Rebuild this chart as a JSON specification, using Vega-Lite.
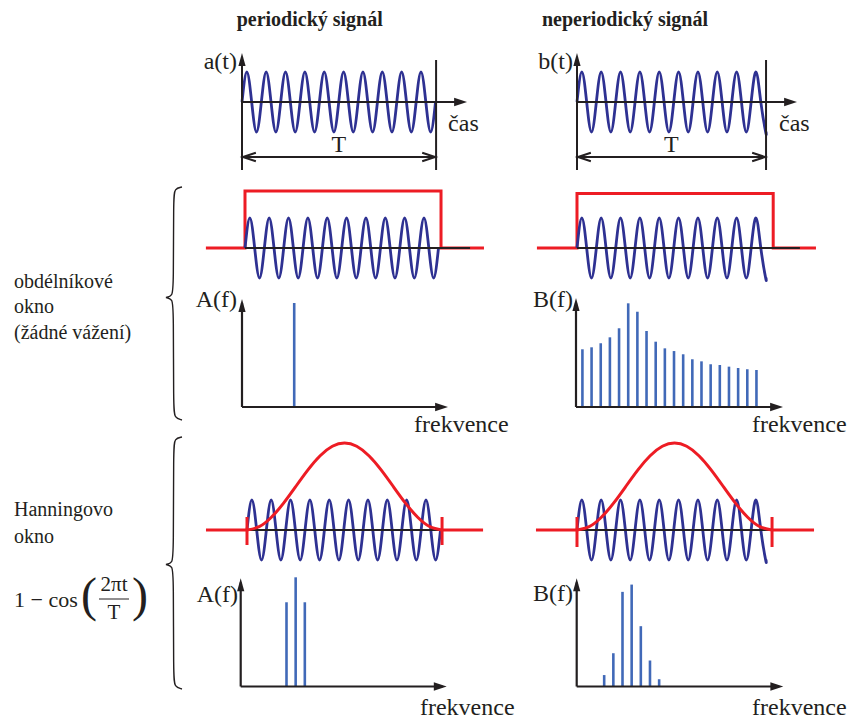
{
"$schema":"https://vega.github.io/schema/vega-lite/v6.json",
"padding":0,
"background":"white",
"config":{"view":{"stroke":null},"text":{"font":"Liberation Serif, Times New Roman, serif"}},
"datasets":{
"wp":[{"t":0,"a":0},{"t":0.25,"a":1},{"t":0.5,"a":0},{"t":0.75,"a":-1},{"t":1,"a":0},{"t":1.25,"a":1},{"t":1.5,"a":0},{"t":1.75,"a":-1},{"t":2,"a":0},{"t":2.25,"a":1},{"t":2.5,"a":0},{"t":2.75,"a":-1},{"t":3,"a":0},{"t":3.25,"a":1},{"t":3.5,"a":0},{"t":3.75,"a":-1},{"t":4,"a":0},{"t":4.25,"a":1},{"t":4.5,"a":0},{"t":4.75,"a":-1},{"t":5,"a":0},{"t":5.25,"a":1},{"t":5.5,"a":0},{"t":5.75,"a":-1},{"t":6,"a":0},{"t":6.25,"a":1},{"t":6.5,"a":0},{"t":6.75,"a":-1},{"t":7,"a":0},{"t":7.25,"a":1},{"t":7.5,"a":0},{"t":7.75,"a":-1},{"t":8,"a":0},{"t":8.25,"a":1},{"t":8.5,"a":0},{"t":8.75,"a":-1},{"t":9,"a":0},{"t":9.25,"a":1},{"t":9.5,"a":0},{"t":9.75,"a":-1},{"t":10,"a":0}],
"wn":[{"t":0,"a":0},{"t":0.25,"a":1},{"t":0.5,"a":0},{"t":0.75,"a":-1},{"t":1,"a":0},{"t":1.25,"a":1},{"t":1.5,"a":0},{"t":1.75,"a":-1},{"t":2,"a":0},{"t":2.25,"a":1},{"t":2.5,"a":0},{"t":2.75,"a":-1},{"t":3,"a":0},{"t":3.25,"a":1},{"t":3.5,"a":0},{"t":3.75,"a":-1},{"t":4,"a":0},{"t":4.25,"a":1},{"t":4.5,"a":0},{"t":4.75,"a":-1},{"t":5,"a":0},{"t":5.25,"a":1},{"t":5.5,"a":0},{"t":5.75,"a":-1},{"t":6,"a":0},{"t":6.25,"a":1},{"t":6.5,"a":0},{"t":6.75,"a":-1},{"t":7,"a":0},{"t":7.25,"a":1},{"t":7.5,"a":0},{"t":7.75,"a":-1},{"t":8,"a":0},{"t":8.25,"a":1},{"t":8.5,"a":0},{"t":8.75,"a":-1},{"t":9,"a":0},{"t":9.25,"a":1},{"t":9.5,"a":0},{"t":9.75,"a":-1},{"t":9.77,"a":-0.99}],
"hann":[{"t":0,"a":0},{"t":0.63,"a":0.11},{"t":1.26,"a":0.425},{"t":1.89,"a":0.895},{"t":2.52,"a":1.45},{"t":3.15,"a":2.005},{"t":3.78,"a":2.475},{"t":4.41,"a":2.79},{"t":5.04,"a":2.9},{"t":5.67,"a":2.79},{"t":6.3,"a":2.475},{"t":6.93,"a":2.005},{"t":7.56,"a":1.45},{"t":8.19,"a":0.895},{"t":8.82,"a":0.425},{"t":9.45,"a":0.11},{"t":10.08,"a":0}]
},
"hconcat":[
{
"width":190,"height":720,
"encoding":{
"x":{"field":"h","type":"quantitative","scale":{"domain":[0,190],"nice":false,"zero":false},"axis":null},
"y":{"field":"v","type":"quantitative","scale":{"domain":[0,720],"nice":false,"zero":false,"reverse":true},"axis":null}
},
"layer":[
{"data":{"values":[
{"b":1,"i":0,"h":182,"v":187},{"b":1,"i":1,"h":174.5,"v":188.5},{"b":1,"i":2,"h":173.5,"v":198},{"b":1,"i":3,"h":173.5,"v":286},{"b":1,"i":4,"h":172.5,"v":296},{"b":1,"i":5,"h":166,"v":297.5},{"b":1,"i":6,"h":166,"v":297.5},{"b":1,"i":7,"h":166,"v":297.5},{"b":1,"i":8,"h":172.5,"v":299},{"b":1,"i":9,"h":173.5,"v":309},{"b":1,"i":10,"h":173.5,"v":408},{"b":1,"i":11,"h":174.5,"v":418},{"b":1,"i":12,"h":182,"v":420},
{"b":2,"i":0,"h":182,"v":437},{"b":2,"i":1,"h":174.5,"v":438.5},{"b":2,"i":2,"h":173.5,"v":448},{"b":2,"i":3,"h":173.5,"v":553},{"b":2,"i":4,"h":172.5,"v":563},{"b":2,"i":5,"h":166,"v":564.5},{"b":2,"i":6,"h":166,"v":564.5},{"b":2,"i":7,"h":166,"v":564.5},{"b":2,"i":8,"h":172.5,"v":566},{"b":2,"i":9,"h":173.5,"v":576},{"b":2,"i":10,"h":173.5,"v":677},{"b":2,"i":11,"h":174.5,"v":687},{"b":2,"i":12,"h":182,"v":689}
]},
"mark":{"type":"line","interpolate":"basis","color":"#231f20","strokeWidth":1.4},
"encoding":{"detail":{"field":"b"},"order":{"field":"i"}}},
{"data":{"values":[
{"h":14,"v":282,"label":"obdélníkové"},{"h":14,"v":307,"label":"okno"},{"h":14,"v":333,"label":"(žádné vážení)"},
{"h":14,"v":510,"label":"Hanningovo"},{"h":14,"v":537,"label":"okno"}
]},
"mark":{"type":"text","align":"left","baseline":"middle","fontSize":20,"color":"#231f20"},
"encoding":{"text":{"field":"label"}}},
{"data":{"values":[{"h":14,"v":600,"label":"1 − cos"}]},
"mark":{"type":"text","align":"left","baseline":"middle","fontSize":22,"color":"#231f20"},
"encoding":{"text":{"field":"label"}}},
{"data":{"values":[{"h":114,"v":585,"label":"2πt"},{"h":114,"v":613,"label":"T"}]},
"mark":{"type":"text","align":"center","baseline":"middle","fontSize":21,"color":"#231f20"},
"encoding":{"text":{"field":"label"}}},
{"data":{"values":[{"h":89,"v":597,"label":"("},{"h":140,"v":597,"label":")"}]},
"mark":{"type":"text","align":"center","baseline":"middle","fontSize":48,"fontWeight":"normal","color":"#231f20"},
"encoding":{"text":{"field":"label"}}},
{"data":{"values":[{"h":99,"h2":129,"v":599}]},
"mark":{"type":"rule","color":"#231f20","strokeWidth":1},
"encoding":{"x2":{"field":"h2"}}}
]
},
{
"spacing":0,"bounds":"flush",
"vconcat":[
{
"width":335,"height":177,
"encoding":{
"x":{"field":"t","type":"quantitative","scale":{"domain":[-2.687,14.625],"nice":false,"zero":false},"axis":null},
"y":{"field":"a","type":"quantitative","scale":{"domain":[-2.5,3.4],"nice":false,"zero":false},"axis":null}
},
"layer":[
{"data":{"name":"wp"},"mark":{"type":"line","interpolate":"natural","color":"#2e3192","strokeWidth":2.8}},
{"data":{"values":[{"t":0,"a":-2.267,"a2":1.5},{"t":10.03,"a":-2.267,"a2":1.4}]},"mark":{"type":"rule","color":"#231f20","strokeWidth":2},"encoding":{"y2":{"field":"a2"}}},
{"data":{"values":[{"t":0,"t2":11.45,"a":0},{"t":0.1,"t2":9.93,"a":-1.833}]},"mark":{"type":"rule","color":"#231f20","strokeWidth":2},"encoding":{"x2":{"field":"t2"}}},
{"data":{"values":[{"t":11.63,"a":0}]},"mark":{"type":"point","shape":"M0,0L-4.3,-1.4L-4.3,1.4Z","size":36,"filled":true,"color":"#231f20","opacity":1}},
{"data":{"values":[{"t":0,"a":1.633}]},"mark":{"type":"point","shape":"M0,0L-1.2,4.3L1.2,4.3Z","size":36,"filled":true,"color":"#231f20","opacity":1}},
{"data":{"values":[{"t":0.05,"a":-1.833}]},"mark":{"type":"point","shape":"M4.3,-1.4L0,0L4.3,1.4","size":36,"filled":false,"color":"#231f20","strokeWidth":2,"opacity":1}},
{"data":{"values":[{"t":9.98,"a":-1.833}]},"mark":{"type":"point","shape":"M-4.3,-1.4L0,0L-4.3,1.4","size":36,"filled":false,"color":"#231f20","strokeWidth":2,"opacity":1}},
{"data":{"values":[{"t":-0.26,"a":1.333,"label":"a(t)"}]},"mark":{"type":"text","align":"right","baseline":"middle","fontSize":24,"color":"#231f20"},"encoding":{"text":{"field":"label"}}},
{"data":{"values":[{"t":10.65,"a":-0.733,"label":"čas"}]},"mark":{"type":"text","align":"left","baseline":"middle","fontSize":24,"color":"#231f20"},"encoding":{"text":{"field":"label"}}},
{"data":{"values":[{"t":5,"a":-1.433,"label":"T"}]},"mark":{"type":"text","align":"center","baseline":"middle","fontSize":24,"color":"#231f20"},"encoding":{"text":{"field":"label"}}},
{"data":{"values":[{"t":3.5,"a":2.73,"label":"periodický signál"}]},"mark":{"type":"text","align":"center","baseline":"middle","fontWeight":"bold","fontSize":20,"color":"#231f20"},"encoding":{"text":{"field":"label"}}}
]
},
{
"width":335,"height":95,
"encoding":{
"x":{"field":"t","type":"quantitative","scale":{"domain":[-2.842,14.47],"nice":false,"zero":false},"axis":null},
"y":{"field":"a","type":"quantitative","scale":{"domain":[-0.8,2.3667],"nice":false,"zero":false},"axis":null}
},
"layer":[
{"data":{"values":[{"i":0,"t":-2.02,"a":0},{"i":1,"t":0,"a":0},{"i":2,"t":0,"a":1.9},{"i":3,"t":10.13,"a":1.9},{"i":4,"t":10.13,"a":0},{"i":5,"t":12.35,"a":0}]},"mark":{"type":"line","color":"#ed1c24","strokeWidth":3},"encoding":{"order":{"field":"i"}}},
{"data":{"name":"wp"},"mark":{"type":"line","interpolate":"natural","color":"#2e3192","strokeWidth":2.8}},
{"data":{"values":[{"t":0,"t2":11.63,"a":0}]},"mark":{"type":"rule","color":"#231f20","strokeWidth":2.2},"encoding":{"x2":{"field":"t2"}}}
]
},
{
"width":335,"height":165,
"encoding":{
"x":{"field":"f","type":"quantitative","scale":{"domain":[-5.677,30.895],"nice":false,"zero":false},"axis":null},
"y":{"field":"a","type":"quantitative","scale":{"domain":[-0.2885,1.2981],"nice":false,"zero":false},"axis":null}
},
"layer":[
{"data":{"values":[{"f":5.7,"a":1.0}]},"mark":{"type":"rule","color":"#4169b8","strokeWidth":2.6},"encoding":{"y2":{"datum":0}}},
{"data":{"values":[{"f":0,"a":0,"a2":1.0}]},"mark":{"type":"rule","color":"#231f20","strokeWidth":2.2},"encoding":{"y2":{"field":"a2"}}},
{"data":{"values":[{"f":0,"f2":22.05,"a":0}]},"mark":{"type":"rule","color":"#231f20","strokeWidth":2.2},"encoding":{"x2":{"field":"f2"}}},
{"data":{"values":[{"f":22.49,"a":0}]},"mark":{"type":"point","shape":"M0,0L-4.3,-1.4L-4.3,1.4Z","size":36,"filled":true,"color":"#231f20","opacity":1}},
{"data":{"values":[{"f":0,"a":1.038}]},"mark":{"type":"point","shape":"M0,0L-1.2,4.3L1.2,4.3Z","size":36,"filled":true,"color":"#231f20","opacity":1}},
{"data":{"values":[{"f":-0.55,"a":1.03,"label":"A(f)"}]},"mark":{"type":"text","align":"right","baseline":"middle","fontSize":24,"color":"#231f20"},"encoding":{"text":{"field":"label"}}},
{"data":{"values":[{"f":18.78,"a":-0.173,"label":"frekvence"}]},"mark":{"type":"text","align":"left","baseline":"middle","fontSize":24,"color":"#231f20"},"encoding":{"text":{"field":"label"}}}
]
},
{
"width":335,"height":128,
"encoding":{
"x":{"field":"t","type":"quantitative","scale":{"domain":[-2.946,14.367],"nice":false,"zero":false},"axis":null},
"y":{"field":"a","type":"quantitative","scale":{"domain":[-1.1667,3.1],"nice":false,"zero":false},"axis":null}
},
"layer":[
{"data":{"name":"wp"},"mark":{"type":"line","interpolate":"natural","color":"#2e3192","strokeWidth":2.8}},
{"data":{"values":[{"t":0,"t2":11.63,"a":0}]},"mark":{"type":"rule","color":"#231f20","strokeWidth":2.2},"encoding":{"x2":{"field":"t2"}}},
{"data":{"name":"hann"},"mark":{"type":"line","interpolate":"natural","color":"#ed1c24","strokeWidth":3}},
{"data":{"values":[{"t":-2.12,"t2":0,"a":0},{"t":10.08,"t2":12.2,"a":0}]},"mark":{"type":"rule","color":"#ed1c24","strokeWidth":3},"encoding":{"x2":{"field":"t2"}}},
{"data":{"values":[{"t":0,"a":-0.5,"a2":0.433},{"t":10.08,"a":-0.5,"a2":0.433}]},"mark":{"type":"rule","color":"#ed1c24","strokeWidth":3},"encoding":{"y2":{"field":"a2"}}}
]
},
{
"width":335,"height":155,
"encoding":{
"x":{"field":"f","type":"quantitative","scale":{"domain":[-5.535,31.037],"nice":false,"zero":false},"axis":null},
"y":{"field":"a","type":"quantitative","scale":{"domain":[-0.3221,1.1683],"nice":false,"zero":false},"axis":null}
},
"layer":[
{"data":{"values":[{"f":5,"a":0.81},{"f":6,"a":1.05},{"f":7,"a":0.81}]},"mark":{"type":"rule","color":"#4169b8","strokeWidth":2.6},"encoding":{"y2":{"datum":0}}},
{"data":{"values":[{"f":0,"a":0,"a2":1.0}]},"mark":{"type":"rule","color":"#231f20","strokeWidth":2.2},"encoding":{"y2":{"field":"a2"}}},
{"data":{"values":[{"f":0,"f2":22.05,"a":0}]},"mark":{"type":"rule","color":"#231f20","strokeWidth":2.2},"encoding":{"x2":{"field":"f2"}}},
{"data":{"values":[{"f":22.49,"a":0}]},"mark":{"type":"point","shape":"M0,0L-4.3,-1.4L-4.3,1.4Z","size":36,"filled":true,"color":"#231f20","opacity":1}},
{"data":{"values":[{"f":0,"a":1.04}]},"mark":{"type":"point","shape":"M0,0L-1.2,4.3L1.2,4.3Z","size":36,"filled":true,"color":"#231f20","opacity":1}},
{"data":{"values":[{"f":-0.3,"a":0.88,"label":"A(f)"}]},"mark":{"type":"text","align":"right","baseline":"middle","fontSize":24,"color":"#231f20"},"encoding":{"text":{"field":"label"}}},
{"data":{"values":[{"f":19.57,"a":-0.207,"label":"frekvence"}]},"mark":{"type":"text","align":"left","baseline":"middle","fontSize":24,"color":"#231f20"},"encoding":{"text":{"field":"label"}}}
]
}
]
},
{
"spacing":0,"bounds":"flush",
"vconcat":[
{
"width":325,"height":177,
"encoding":{
"x":{"field":"t","type":"quantitative","scale":{"domain":[-2.687,14.109],"nice":false,"zero":false},"axis":null},
"y":{"field":"a","type":"quantitative","scale":{"domain":[-2.5,3.4],"nice":false,"zero":false},"axis":null}
},
"layer":[
{"data":{"name":"wn"},"mark":{"type":"line","interpolate":"natural","color":"#2e3192","strokeWidth":2.8}},
{"data":{"values":[{"t":0,"a":-2.267,"a2":1.5},{"t":9.77,"a":-2.267,"a2":1.4}]},"mark":{"type":"rule","color":"#231f20","strokeWidth":2},"encoding":{"y2":{"field":"a2"}}},
{"data":{"values":[{"t":0,"t2":11.2,"a":0},{"t":0.1,"t2":9.67,"a":-1.833}]},"mark":{"type":"rule","color":"#231f20","strokeWidth":2},"encoding":{"x2":{"field":"t2"}}},
{"data":{"values":[{"t":11.37,"a":0}]},"mark":{"type":"point","shape":"M0,0L-4.3,-1.4L-4.3,1.4Z","size":36,"filled":true,"color":"#231f20","opacity":1}},
{"data":{"values":[{"t":0,"a":1.633}]},"mark":{"type":"point","shape":"M0,0L-1.2,4.3L1.2,4.3Z","size":36,"filled":true,"color":"#231f20","opacity":1}},
{"data":{"values":[{"t":0.05,"a":-1.833}]},"mark":{"type":"point","shape":"M4.3,-1.4L0,0L4.3,1.4","size":36,"filled":false,"color":"#231f20","strokeWidth":2,"opacity":1}},
{"data":{"values":[{"t":9.72,"a":-1.833}]},"mark":{"type":"point","shape":"M-4.3,-1.4L0,0L-4.3,1.4","size":36,"filled":false,"color":"#231f20","strokeWidth":2,"opacity":1}},
{"data":{"values":[{"t":-0.21,"a":1.333,"label":"b(t)"}]},"mark":{"type":"text","align":"right","baseline":"middle","fontSize":24,"color":"#231f20"},"encoding":{"text":{"field":"label"}}},
{"data":{"values":[{"t":10.44,"a":-0.733,"label":"čas"}]},"mark":{"type":"text","align":"left","baseline":"middle","fontSize":24,"color":"#231f20"},"encoding":{"text":{"field":"label"}}},
{"data":{"values":[{"t":4.88,"a":-1.433,"label":"T"}]},"mark":{"type":"text","align":"center","baseline":"middle","fontSize":24,"color":"#231f20"},"encoding":{"text":{"field":"label"}}},
{"data":{"values":[{"t":2.48,"a":2.73,"label":"neperiodický signál"}]},"mark":{"type":"text","align":"center","baseline":"middle","fontWeight":"bold","fontSize":20,"color":"#231f20"},"encoding":{"text":{"field":"label"}}}
]
},
{
"width":325,"height":95,
"encoding":{
"x":{"field":"t","type":"quantitative","scale":{"domain":[-2.687,14.109],"nice":false,"zero":false},"axis":null},
"y":{"field":"a","type":"quantitative","scale":{"domain":[-0.8,2.3667],"nice":false,"zero":false},"axis":null}
},
"layer":[
{"data":{"values":[{"i":0,"t":-2.07,"a":0},{"i":1,"t":0,"a":0},{"i":2,"t":0,"a":1.82},{"i":3,"t":10.14,"a":1.82},{"i":4,"t":10.14,"a":0},{"i":5,"t":12.35,"a":0}]},"mark":{"type":"line","color":"#ed1c24","strokeWidth":3},"encoding":{"order":{"field":"i"}}},
{"data":{"name":"wn"},"mark":{"type":"line","interpolate":"natural","color":"#2e3192","strokeWidth":2.8}},
{"data":{"values":[{"t":0,"t2":11.52,"a":0}]},"mark":{"type":"rule","color":"#231f20","strokeWidth":2.2},"encoding":{"x2":{"field":"t2"}}}
]
},
{
"width":325,"height":165,
"encoding":{
"x":{"field":"f","type":"quantitative","scale":{"domain":[-5.568,29.913],"nice":false,"zero":false},"axis":null},
"y":{"field":"a","type":"quantitative","scale":{"domain":[-0.2885,1.2981],"nice":false,"zero":false},"axis":null}
},
"layer":[
{"data":{"values":[{"f":0.7,"a":0.555},{"f":1.7,"a":0.574},{"f":2.7,"a":0.613},{"f":3.7,"a":0.67},{"f":4.7,"a":0.757},{"f":5.7,"a":0.997},{"f":6.7,"a":0.916},{"f":7.7,"a":0.731},{"f":8.7,"a":0.628},{"f":9.7,"a":0.564},{"f":10.7,"a":0.538},{"f":11.7,"a":0.507},{"f":12.7,"a":0.459},{"f":13.7,"a":0.439},{"f":14.7,"a":0.411},{"f":15.7,"a":0.404},{"f":16.7,"a":0.388},{"f":17.7,"a":0.375},{"f":18.7,"a":0.363},{"f":19.7,"a":0.356}]},"mark":{"type":"rule","color":"#4169b8","strokeWidth":2.6},"encoding":{"y2":{"datum":0}}},
{"data":{"values":[{"f":0,"a":0,"a2":1.0}]},"mark":{"type":"rule","color":"#231f20","strokeWidth":2.2},"encoding":{"y2":{"field":"a2"}}},
{"data":{"values":[{"f":0,"f2":22.15,"a":0}]},"mark":{"type":"rule","color":"#231f20","strokeWidth":2.2},"encoding":{"x2":{"field":"f2"}}},
{"data":{"values":[{"f":22.6,"a":0}]},"mark":{"type":"point","shape":"M0,0L-4.3,-1.4L-4.3,1.4Z","size":36,"filled":true,"color":"#231f20","opacity":1}},
{"data":{"values":[{"f":0,"a":1.048}]},"mark":{"type":"point","shape":"M0,0L-1.2,4.3L1.2,4.3Z","size":36,"filled":true,"color":"#231f20","opacity":1}},
{"data":{"values":[{"f":-0.33,"a":1.03,"label":"B(f)"}]},"mark":{"type":"text","align":"right","baseline":"middle","fontSize":24,"color":"#231f20"},"encoding":{"text":{"field":"label"}}},
{"data":{"values":[{"f":19.21,"a":-0.173,"label":"frekvence"}]},"mark":{"type":"text","align":"left","baseline":"middle","fontSize":24,"color":"#231f20"},"encoding":{"text":{"field":"label"}}}
]
},
{
"width":325,"height":128,
"encoding":{
"x":{"field":"t","type":"quantitative","scale":{"domain":[-2.687,14.109],"nice":false,"zero":false},"axis":null},
"y":{"field":"a","type":"quantitative","scale":{"domain":[-1.1667,3.1],"nice":false,"zero":false},"axis":null}
},
"layer":[
{"data":{"name":"wn"},"mark":{"type":"line","interpolate":"natural","color":"#2e3192","strokeWidth":2.8}},
{"data":{"values":[{"t":0,"t2":11.42,"a":0}]},"mark":{"type":"rule","color":"#231f20","strokeWidth":2.2},"encoding":{"x2":{"field":"t2"}}},
{"data":{"name":"hann"},"mark":{"type":"line","interpolate":"natural","color":"#ed1c24","strokeWidth":3}},
{"data":{"values":[{"t":-2.12,"t2":0,"a":0},{"t":10.08,"t2":12.25,"a":0}]},"mark":{"type":"rule","color":"#ed1c24","strokeWidth":3},"encoding":{"x2":{"field":"t2"}}},
{"data":{"values":[{"t":0,"a":-0.567,"a2":0.433},{"t":10.08,"a":-0.567,"a2":0.433}]},"mark":{"type":"rule","color":"#ed1c24","strokeWidth":3},"encoding":{"y2":{"field":"a2"}}}
]
},
{
"width":325,"height":155,
"encoding":{
"x":{"field":"f","type":"quantitative","scale":{"domain":[-5.644,29.836],"nice":false,"zero":false},"axis":null},
"y":{"field":"a","type":"quantitative","scale":{"domain":[-0.3221,1.1683],"nice":false,"zero":false},"axis":null}
},
"layer":[
{"data":{"values":[{"f":3,"a":0.11},{"f":4,"a":0.32},{"f":5,"a":0.91},{"f":6,"a":0.98},{"f":7,"a":0.58},{"f":8,"a":0.25},{"f":9,"a":0.07}]},"mark":{"type":"rule","color":"#4169b8","strokeWidth":2.6},"encoding":{"y2":{"datum":0}}},
{"data":{"values":[{"f":0,"a":0,"a2":1.0}]},"mark":{"type":"rule","color":"#231f20","strokeWidth":2.2},"encoding":{"y2":{"field":"a2"}}},
{"data":{"values":[{"f":0,"f2":22.1,"a":0}]},"mark":{"type":"rule","color":"#231f20","strokeWidth":2.2},"encoding":{"x2":{"field":"f2"}}},
{"data":{"values":[{"f":22.55,"a":0}]},"mark":{"type":"point","shape":"M0,0L-4.3,-1.4L-4.3,1.4Z","size":36,"filled":true,"color":"#231f20","opacity":1}},
{"data":{"values":[{"f":0,"a":1.04}]},"mark":{"type":"point","shape":"M0,0L-1.2,4.3L1.2,4.3Z","size":36,"filled":true,"color":"#231f20","opacity":1}},
{"data":{"values":[{"f":-0.4,"a":0.89,"label":"B(f)"}]},"mark":{"type":"text","align":"right","baseline":"middle","fontSize":24,"color":"#231f20"},"encoding":{"text":{"field":"label"}}},
{"data":{"values":[{"f":19.14,"a":-0.207,"label":"frekvence"}]},"mark":{"type":"text","align":"left","baseline":"middle","fontSize":24,"color":"#231f20"},"encoding":{"text":{"field":"label"}}}
]
}
]
}
],
"spacing":0
}
